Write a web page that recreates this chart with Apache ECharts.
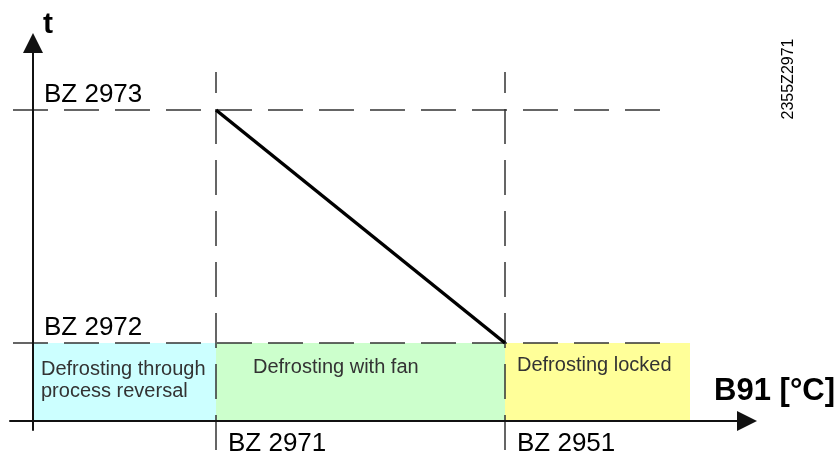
<!DOCTYPE html>
<html lang="en">
<head>
    <meta http-equiv="Content-Type" content="text/html; charset=utf-8"/>
    <title>Defrosting</title>
    <script type="text/javascript" src="https://cdn.jsdelivr.net/npm/echarts@6/dist/echarts.min.js"></script>
    <style>
        html, body { margin: 0; padding: 0; background: #fff; }
        #chart { width: 839px; height: 454px; }
    </style>
</head>
<body>
<div id="chart"></div>
<script type="text/javascript">
    // x marks (B91 temperature limits)
    var xMarkNames = ['BZ 2971', 'BZ 2951'];
    var xMarkValues = [18.3, 47.2];
    // y marks (time limits)
    var yMarkNames = ['BZ 2972', 'BZ 2973'];
    var yMarkValues = [7.8, 31.1];
    // zones under BZ 2972
    var zoneNames = ['Defrosting through\nprocess reversal', 'Defrosting with fan', 'Defrosting locked'];
    var zoneEdges = [0, 18.3, 47.2, 65.7];
    var zoneColors = ['#ccffff', '#ccffcc', '#ffff99'];
    var zoneTop = 7.8;
    // defrost time line
    var curve = [[18.3, 31.1], [47.2, 7.8]];
    // reach of the dashed helper lines
    var dashXRange = [-2.0, 62.7];
    var dashYRange = [-2.9, 34.9];

    var chart = echarts.init(document.getElementById('chart'));
    var textColor = '#333';
    var fontFam = 'Liberation Sans, Arial, sans-serif';
    var dashStyle = {color: '#333', width: 1.5, type: [35, 16]};

    var series = [];

    // coloured zones
    var areas = [];
    var labelPos = [[8, 15], [37, 13], [12, 11]];
    for (var i = 0; i < zoneNames.length; i++) {
        areas.push([
            {
                xAxis: zoneEdges[i], yAxis: zoneTop,
                itemStyle: {color: zoneColors[i]},
                label: {position: labelPos[i]}
            },
            {xAxis: zoneEdges[i + 1], yAxis: 0}
        ]);
    }
    series.push({
        type: 'line',
        z: 1,
        data: [],
        markArea: {
            silent: true,
            itemStyle: {opacity: 1},
            label: {
                show: true,
                formatter: function (p) { return zoneNames[p.dataIndex]; },
                color: textColor,
                fontSize: 20,
                lineHeight: 22,
                fontFamily: fontFam
            },
            data: areas
        }
    });

    // horizontal dashed lines
    for (var j = 0; j < yMarkValues.length; j++) {
        series.push({
            type: 'line', z: 3, clip: false, silent: true, symbol: 'none',
            lineStyle: dashStyle,
            data: [[dashXRange[0], yMarkValues[j]], [dashXRange[1], yMarkValues[j]]]
        });
    }
    // vertical dashed lines
    for (var k = 0; k < xMarkValues.length; k++) {
        series.push({
            type: 'line', z: 3, clip: false, silent: true, symbol: 'none',
            lineStyle: dashStyle,
            data: [[xMarkValues[k], dashYRange[0]], [xMarkValues[k], dashYRange[1]]]
        });
    }
    // main line
    series.push({
        type: 'line', z: 5, symbol: 'none', silent: true,
        lineStyle: {color: '#000', width: 3.5},
        data: curve
    });

    var axisLineStyle = {color: '#111', width: 2};

    var option = {
        animation: false,
        grid: {left: 10, right: 92, top: 43, bottom: 24, outerBoundsMode: 'none', containLabel: false},
        xAxis: {
            type: 'value', min: -2.3, max: 71.4, z: 10,
            name: 'B91 [°C]',
            nameLocation: 'end',
            nameGap: 88,
            nameTextStyle: {
                color: '#000', fontSize: 31, fontWeight: 'bold',
                fontFamily: fontFam,
                align: 'right', verticalAlign: 'bottom', padding: [0, 0, 14, 0]
            },
            axisLine: {
                onZero: true, lineStyle: axisLineStyle,
                symbol: ['none', 'triangle'], symbolSize: [20, 20]
            },
            axisTick: {show: false},
            splitLine: {show: false},
            axisLabel: {
                customValues: xMarkValues,
                formatter: function (v) { return xMarkNames[xMarkValues.indexOf(v)]; },
                align: 'left', verticalAlign: 'top', margin: 1,
                padding: [0, 0, 0, 12],
                color: '#000', fontSize: 26,
                fontFamily: fontFam
            }
        },
        yAxis: {
            type: 'value', min: -0.9, max: 37.8, z: 10,
            name: 't',
            nameLocation: 'end',
            nameGap: 3,
            nameTextStyle: {
                color: '#000', fontSize: 30, fontWeight: 'bold',
                fontFamily: fontFam,
                align: 'left', padding: [0, 0, 0, 10]
            },
            axisLine: {
                onZero: true, lineStyle: axisLineStyle,
                symbol: ['none', 'triangle'], symbolSize: [20, 20]
            },
            axisTick: {show: false},
            splitLine: {show: false},
            axisLabel: {
                inside: false,
                customValues: yMarkValues,
                formatter: function (v) { return yMarkNames[yMarkValues.indexOf(v)]; },
                align: 'left', verticalAlign: 'bottom', margin: -11,
                padding: [0, 0, 2, 23],
                color: '#000', fontSize: 26,
                fontFamily: fontFam
            }
        },
        graphic: [{
            type: 'text',
            x: 789, y: 79,
            rotation: Math.PI / 2,
            style: {
                text: '2355Z2971',
                fill: '#000',
                fontSize: 16,
                fontFamily: fontFam,
                align: 'center',
                verticalAlign: 'middle'
            }
        }],
        series: series
    };
    chart.setOption(option);
</script>
</body>
</html>
